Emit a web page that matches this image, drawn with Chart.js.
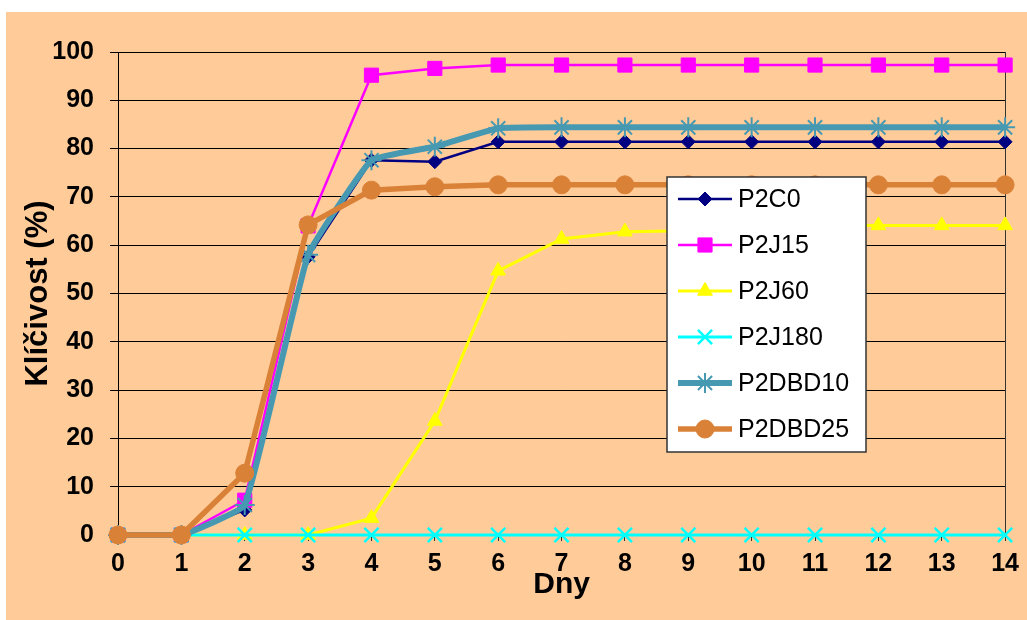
<!DOCTYPE html>
<html lang="cs">
<head>
<meta charset="UTF-8">
<title>Klíčivost</title>
<script src="https://cdn.jsdelivr.net/npm/chart.js"></script>
<style>
  html, body { margin: 0; padding: 0; background: #fff; }
  .frame { position: absolute; left: 6px; top: 12px; width: 1021px; height: 608px; background: #FFCC99; }
  canvas { display: block; }
</style>
</head>
<body>
<div class="frame"><canvas id="chart" width="1021" height="608"></canvas></div>
<script>
// days 0..14, germination in %
const days = [0, 1, 2, 3, 4, 5, 6, 7, 8, 9, 10, 11, 12, 13, 14];
const yTicks = [0, 10, 20, 30, 40, 50, 60, 70, 80, 90, 100];

const p2c0    = [0, 0, 5.2, 57.6, 77.6, 77.3, 81.4, 81.4, 81.4, 81.4, 81.4, 81.4, 81.4, 81.4, 81.4];
const p2j15   = [0, 0, 7.2, 64.0, 95.2, 96.6, 97.3, 97.3, 97.3, 97.3, 97.3, 97.3, 97.3, 97.3, 97.3];
const p2j60   = [0, 0, 0, 0, 3.5, 23.6, 54.7, 61.3, 62.8, 63.0, 63.6, 64.1, 64.1, 64.1, 64.1];
const p2j180  = [0, 0, 0, 0, 0, 0, 0, 0, 0, 0, 0, 0, 0, 0, 0];
const p2dbd10 = [0, 0, 6.2, 58.0, 77.6, 80.4, 84.2, 84.4, 84.4, 84.4, 84.4, 84.4, 84.4, 84.4, 84.4];
const p2dbd25 = [0, 0, 12.8, 64.2, 71.4, 72.1, 72.5, 72.5, 72.5, 72.5, 72.5, 72.5, 72.5, 72.5, 72.5];

const FONT = "Arial, 'Liberation Sans', sans-serif";
Chart.defaults.font.family = FONT;
Chart.defaults.color = '#000';

function pts(arr) {
  return arr.map((v, i) => ({ x: days[i], y: v }));
}

function series(label, data, color, lineW, style, radius, pbw, tension) {
  return {
    label: label,
    data: pts(data),
    borderColor: color,
    backgroundColor: color,
    borderWidth: lineW,
    pointStyle: style,
    pointRadius: radius,
    pointHoverRadius: radius,
    pointBackgroundColor: color,
    pointBorderColor: color,
    pointBorderWidth: pbw,
    tension: tension || 0,
    clip: false
  };
}

const datasets = [
  series('P2C0', p2c0, '#000080', 2.5, 'rectRot', 7, 1),
  series('P2J15', p2j15, '#FF00FF', 2.5, 'rect', 10, 1),
  series('P2J60', p2j60, '#FFFF00', 3, 'triangle', 8.5, 1),
  series('P2J180', p2j180, '#00FFFF', 3, 'crossRot', 10, 2.5),
  series('P2DBD10', p2dbd10, '#4799B2', 6, 'star', 10, 2, 0.1),
  series('P2DBD25', p2dbd25, '#DA8138', 5.5, 'circle', 9, 1)
];
// later series on top, like the original
datasets.forEach((d, i) => { d.order = datasets.length - i; });

// legend box inside the plot
const boxLegend = {
  id: 'boxLegend',
  afterDraw(chart) {
    const ctx = chart.ctx;
    const x = 661, y = 165, w = 199, h = 275;
    ctx.save();
    ctx.fillStyle = '#fff';
    ctx.fillRect(x, y, w, h);
    ctx.strokeStyle = '#333';
    ctx.lineWidth = 1.5;
    ctx.strokeRect(x, y, w, h);
    chart.data.datasets.forEach((ds, i) => {
      const cy = y + 22 + i * 46;
      ctx.strokeStyle = ds.borderColor;
      ctx.lineWidth = ds.borderWidth;
      ctx.beginPath();
      ctx.moveTo(x + 11, cy);
      ctx.lineTo(x + 65, cy);
      ctx.stroke();
      ctx.fillStyle = ds.pointBackgroundColor;
      ctx.strokeStyle = ds.pointBorderColor;
      ctx.lineWidth = ds.pointBorderWidth;
      Chart.helpers.drawPoint(ctx, {
        pointStyle: ds.pointStyle,
        radius: ds.pointRadius,
        borderWidth: ds.pointBorderWidth,
        rotation: 0
      }, x + 38, cy);
      ctx.fillStyle = '#000';
      ctx.font = '25px ' + FONT;
      ctx.textAlign = 'left';
      ctx.textBaseline = 'middle';
      ctx.fillText(ds.label, x + 71, cy + 1);
    });
    ctx.restore();
  }
};

// right edge of plot area
const plotFrame = {
  id: 'plotFrame',
  beforeDatasetsDraw(chart) {
    const { ctx, chartArea } = chart;
    ctx.save();
    ctx.strokeStyle = '#333';
    ctx.lineWidth = 1;
    ctx.beginPath();
    ctx.moveTo(Math.round(chartArea.right) + 0.5, chartArea.top);
    ctx.lineTo(Math.round(chartArea.right) + 0.5, chartArea.bottom);
    ctx.stroke();
    ctx.restore();
  }
};

new Chart(document.getElementById('chart'), {
  type: 'line',
  data: { datasets: datasets },
  plugins: [plotFrame, boxLegend],
  options: {
    responsive: false,
    animation: false,
    devicePixelRatio: 1,
    layout: { padding: { top: 40, right: 19, left: 0, bottom: 0 } },
    plugins: { legend: { display: false }, tooltip: { enabled: false } },
    scales: {
      x: {
        type: 'linear',
        min: days[0],
        max: days[days.length - 1],
        afterFit: s => { s.height = 85; },
        afterBuildTicks: s => { s.ticks = days.map(v => ({ value: v })); },
        grid: { drawOnChartArea: false, drawTicks: true, tickLength: 6, color: '#333' },
        border: { display: true, color: '#000', width: 1 },
        ticks: { font: { size: 25, weight: 'bold' }, padding: 8, maxRotation: 0, autoSkip: false },
        title: { display: true, text: 'Dny', font: { size: 30, weight: 'bold' }, padding: { top: 0, bottom: 17 } }
      },
      y: {
        min: yTicks[0],
        max: yTicks[yTicks.length - 1],
        afterFit: s => { s.width = 112; },
        afterBuildTicks: s => { s.ticks = yTicks.map(v => ({ value: v })); },
        grid: { color: '#000', lineWidth: 1, drawTicks: true, tickLength: 8 },
        border: { display: true, color: '#000', width: 1 },
        ticks: { font: { size: 25, weight: 'bold' }, padding: 16, autoSkip: false },
        title: { display: true, text: 'Klíčivost (%)', font: { size: 31, weight: 'bold' }, padding: { top: 14, bottom: 0 } }
      }
    }
  }
});
</script>
</body>
</html>
